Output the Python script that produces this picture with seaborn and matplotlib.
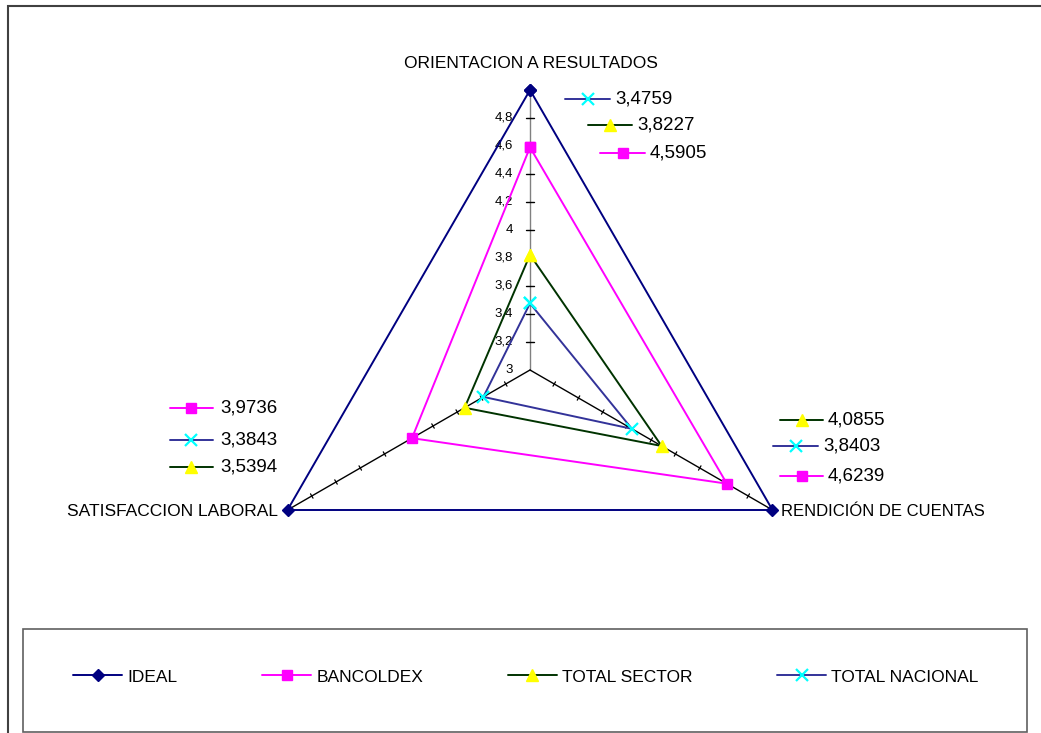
import numpy as np
import pandas as pd
import seaborn as sns
import matplotlib.pyplot as plt
from matplotlib.patches import Rectangle
from matplotlib.lines import Line2D

# chart values
categories = ['ORIENTACION A RESULTADOS', 'RENDICIÓN DE CUENTAS', 'SATISFACCION LABORAL']
series_names = ['IDEAL', 'BANCOLDEX', 'TOTAL SECTOR', 'TOTAL NACIONAL']
ideal = [5, 5, 5]
bancoldex = [4.5905, 4.6239, 3.9736]
total_sector = [3.8227, 4.0855, 3.5394]
total_nacional = [3.4759, 3.8403, 3.3843]
tick_values = [3, 3.2, 3.4, 3.6, 3.8, 4, 4.2, 4.4, 4.6, 4.8]
tick_labels = ['3', '3,2', '3,4', '3,6', '3,8', '4', '4,2', '4,4', '4,6', '4,8']
r_min = 3

values = {'IDEAL': ideal, 'BANCOLDEX': bancoldex,
          'TOTAL SECTOR': total_sector, 'TOTAL NACIONAL': total_nacional}

# styles
line_col = {'IDEAL': '#000080', 'BANCOLDEX': '#FF00FF', 'TOTAL SECTOR': '#003300', 'TOTAL NACIONAL': '#333399'}
mark_col = {'IDEAL': '#000080', 'BANCOLDEX': '#FF00FF', 'TOTAL SECTOR': '#FFFF00', 'TOTAL NACIONAL': '#00FFFF'}
mark = {'IDEAL': 'D', 'BANCOLDEX': 's', 'TOTAL SECTOR': '^', 'TOTAL NACIONAL': 'x'}
msize = {'IDEAL': 6, 'BANCOLDEX': 7, 'TOTAL SECTOR': 8, 'TOTAL NACIONAL': 8}

angles = np.deg2rad([90, -30, 210])

W, H = 1041, 733
CX, CY, SCALE = 530, 370, 140   # centre pixel and pixels per unit


def px(x, y):
    # pixel position -> data coords
    return (x - CX) / SCALE, (CY - y) / SCALE


def polar(v, i):
    r = v - r_min
    return r * np.cos(angles[i]), r * np.sin(angles[i])


sns.set_theme(style='white')
plt.rcParams['font.family'] = ['Liberation Sans', 'DejaVu Sans']
plt.rcParams['text.color'] = 'black'

fig = plt.figure(figsize=(W / 100, H / 100), dpi=100)
ax = fig.add_axes([0, 0, 1, 1])
ax.set_xlim(-CX / SCALE, (W - CX) / SCALE)
ax.set_ylim(-(H - CY) / SCALE, CY / SCALE)
ax.axis('off')

# outer frame
fig.patches.append(Rectangle((8 / W, -0.1), 1.2, 1 - 6 / H + 0.1, transform=fig.transFigure,
                             fill=False, edgecolor='#404040', linewidth=1.5))

# spokes + ticks
rmax = max(ideal) - r_min
for i in range(3):
    ex, ey = rmax * np.cos(angles[i]), rmax * np.sin(angles[i])
    ax.plot([0, ex], [0, ey], color='#808080' if i == 0 else 'black', lw=1.0, zorder=1)
    for tv in tick_values[1:]:
        x0, y0 = polar(tv, i)
        if i == 0:
            d = 4 / SCALE
            ax.plot([x0 - d, x0 + d], [y0, y0], color='black', lw=1.0, zorder=1)
        else:
            d = 2.5 / SCALE
            nx, ny = -np.sin(angles[i]), np.cos(angles[i])
            ax.plot([x0 - d * nx, x0 + d * nx], [y0 - d * ny, y0 + d * ny], color='black', lw=0.9, zorder=1)

for tv, tl in zip(tick_values, tick_labels):
    x0, y0 = polar(tv, 0)
    ax.text(x0 - 17 / SCALE, y0, tl, ha='right', va='center', fontsize=9.5, color='black')

# series polygons
for z, name in enumerate(series_names):
    pts = [polar(v, i) for i, v in enumerate(values[name])]
    pts.append(pts[0])
    df = pd.DataFrame(pts, columns=['x', 'y'])
    sns.lineplot(data=df, x='x', y='y', sort=False, estimator=None, ax=ax,
                 color=line_col[name], lw=1.4, marker=mark[name], markersize=msize[name],
                 markerfacecolor=mark_col[name], markeredgecolor=mark_col[name],
                 markeredgewidth=1.6 if name == 'TOTAL NACIONAL' else 1, zorder=3 + z)

# category labels
ax.text(*px(531, 63), categories[0], ha='center', va='center', fontsize=12.5)
ax.text(*px(781, 511), categories[1], ha='left', va='center', fontsize=12)
ax.text(*px(278, 511), categories[2], ha='right', va='center', fontsize=12.5)

# data labels with keys (key x start, key x end, y, text x)
label_pos = {
    0: [('TOTAL NACIONAL', 565, 610, 99, 615), ('TOTAL SECTOR', 588, 632, 125, 637), ('BANCOLDEX', 600, 645, 153, 650)],
    1: [('TOTAL SECTOR', 780, 823, 420, 828), ('TOTAL NACIONAL', 773, 818, 446, 823), ('BANCOLDEX', 780, 823, 476, 828)],
    2: [('BANCOLDEX', 170, 213, 408, 220), ('TOTAL NACIONAL', 170, 213, 440, 220), ('TOTAL SECTOR', 170, 213, 467, 220)],
}
for i, items in label_pos.items():
    for name, x1, x2, y, tx in items:
        a, b = px(x1, y)
        c, _ = px(x2, y)
        ax.plot([a, c], [b, b], color=line_col[name], lw=1.4)
        ax.plot([(a + c) / 2], [b], marker=mark[name], markersize=msize[name], color=mark_col[name],
                markeredgewidth=1.6 if name == 'TOTAL NACIONAL' else 1)
        val = values[name][i]
        ax.text(*px(tx, y), f'{val:.4f}'.replace('.', ','), ha='left', va='center', fontsize=13.5)

if ax.get_legend() is not None:
    ax.get_legend().remove()

# legend box
fig.patches.append(Rectangle((23 / W, (H - 732) / H), (1027 - 23) / W, (732 - 629) / H,
                             transform=fig.transFigure, fill=False, edgecolor='#606060', linewidth=1.2))
handles = [Line2D([], [], color=line_col[n], lw=1.4, marker=mark[n], markersize=msize[n],
                  markerfacecolor=mark_col[n], markeredgecolor=mark_col[n],
                  markeredgewidth=1.6 if n == 'TOTAL NACIONAL' else 1) for n in series_names]
fig.legend(handles, series_names, loc='center', bbox_to_anchor=(526 / W, 1 - 677 / H), ncol=4,
           frameon=False, fontsize=12.5, handlelength=2.8, handletextpad=0.3, columnspacing=4.9)

fig.savefig('out.png', dpi=100)
